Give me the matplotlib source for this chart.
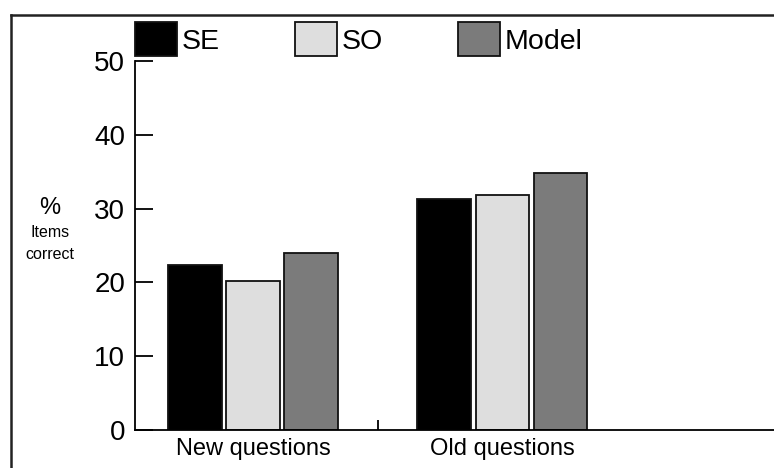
import numpy as np
from matplotlib import pyplot as plt
from matplotlib.lines import Line2D

plt.rcParams['font.family'] = ['Liberation Sans', 'DejaVu Sans']

groups = ['New questions', 'Old questions']
series = ['SE', 'SO', 'Model']
se_vals = [22.4, 31.3]
so_vals = [20.2, 31.8]
model_vals = [24.0, 34.8]
colors = ['#000000', '#dedede', '#7b7b7b']

fig = plt.figure(figsize=(7.74, 4.68), dpi=100)
ax = fig.add_axes([0.1744, 0.0812, 0.8256, 0.7885])

x = np.arange(len(groups))
width = 0.215
step = 0.233
for i, (vals, col, name) in enumerate(zip([se_vals, so_vals, model_vals], colors, series)):
    ax.bar(x + (i - 1) * step, vals, width, color=col, edgecolor='#111111',
           linewidth=1.3, label=name)

ax.set_xlim(-0.474, 2.09)
ax.set_ylim(0, 50)
ax.set_yticks([0, 10, 20, 30, 40, 50])
ax.tick_params(axis='y', direction='in', length=13, width=1.3, pad=7, labelsize=20)
ax.set_xticks(x)
ax.set_xticklabels(groups)
ax.tick_params(axis='x', length=0, pad=6, labelsize=17)
ax.set_xticks([0.5], minor=True)
ax.tick_params(axis='x', which='minor', direction='in', length=7, width=1.3)

for s in ['top', 'right']:
    ax.spines[s].set_visible(False)
for s in ['left', 'bottom']:
    ax.spines[s].set_linewidth(1.3)

fig.text(0.0646, 0.555, '%', ha='center', va='center', fontsize=17)
fig.text(0.0646, 0.504, 'Items', ha='center', va='center', fontsize=11.5)
fig.text(0.0646, 0.457, 'correct', ha='center', va='center', fontsize=11.5)

ax.legend(loc='lower left', bbox_to_anchor=(0.1744, 0.8803), bbox_transform=fig.transFigure,
          ncol=3, frameon=False, fontsize=20.5, handlelength=1.47, handleheight=1.45,
          handletextpad=0.18, columnspacing=2.63, borderpad=0, borderaxespad=0)

# outer frame (left and top edges visible)
fig.add_artist(Line2D([0.0145, 0.0145], [0, 0.968], color='#222222', lw=1.8))
fig.add_artist(Line2D([0.0145, 1], [0.968, 0.968], color='#222222', lw=1.8))

fig.savefig('out.png', dpi=100)
